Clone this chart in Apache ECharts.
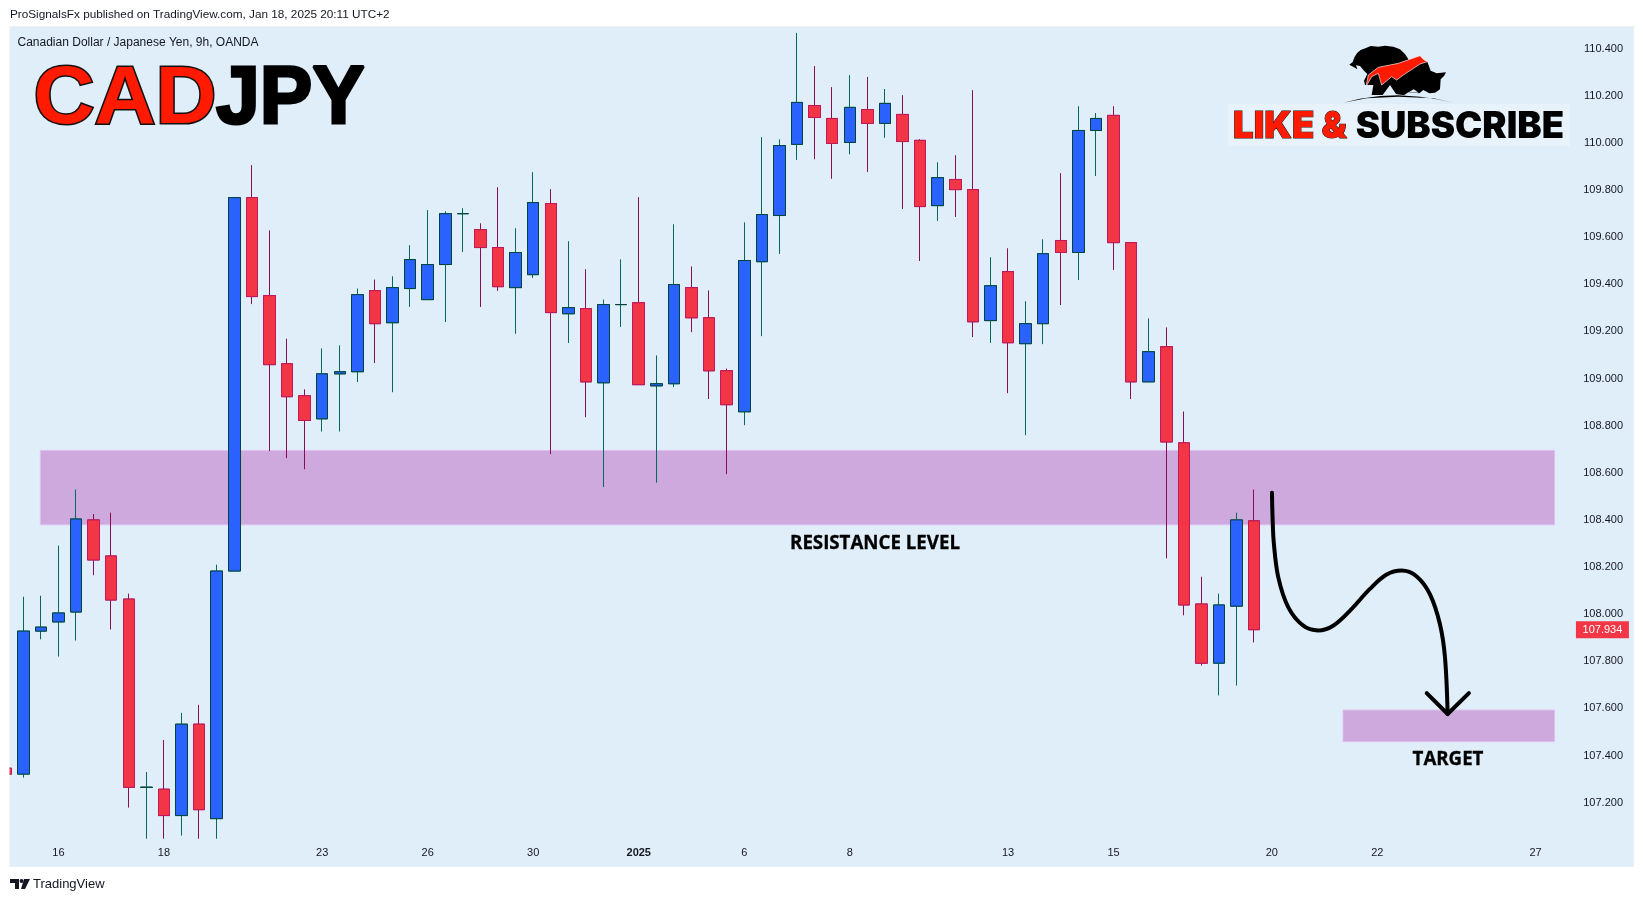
<!DOCTYPE html>
<html lang="en">
<head>
    <meta charset="UTF-8">
    <title>CADJPY</title>
    <script src="https://cdnjs.cloudflare.com/ajax/libs/echarts/6.0.0/echarts.min.js"></script>
    <style>
        html, body { margin: 0; padding: 0; background: #fff; }
        #Chart1 { width: 1643px; height: 901px; }
    </style>
</head>
<body>
<div id="Chart1"></div>
<script>
// candles, one per 9h bar
const opens = [107.346,107.321,107.928,107.967,108.009,108.400,108.247,108.064,107.265,107.257,107.145,107.533,107.132,108.183,109.768,109.352,109.063,108.927,108.829,109.020,109.029,109.373,109.237,109.382,109.335,109.484,109.700,109.632,109.556,109.386,109.441,109.743,109.275,109.297,108.982,109.314,109.322,108.969,108.978,109.386,109.258,109.033,108.859,109.496,109.692,109.994,110.159,110.104,110.002,110.142,110.083,110.121,110.011,109.734,109.845,109.802,109.246,109.454,109.148,109.233,109.586,109.535,110.053,110.117,109.577,108.986,109.135,108.727,108.043,107.792,108.034,108.396];
const closes = [107.321,107.928,107.945,108.005,108.404,108.230,108.060,107.265,107.265,107.145,107.533,107.170,108.183,109.768,109.348,109.059,108.923,108.822,109.020,109.029,109.356,109.233,109.386,109.505,109.484,109.700,109.700,109.556,109.390,109.535,109.747,109.280,109.301,108.986,109.314,109.314,108.974,108.978,109.399,109.258,109.033,108.889,109.501,109.696,109.989,110.172,110.108,109.998,110.151,110.083,110.168,110.006,109.730,109.853,109.802,109.241,109.394,109.152,109.233,109.530,109.535,110.053,110.104,109.577,108.986,109.114,108.731,108.039,107.792,108.039,108.400,107.934];
const lows = [107.321,107.306,107.893,107.820,107.888,108.165,107.935,107.179,107.047,107.047,107.060,107.047,107.047,108.183,109.316,108.692,108.662,108.615,108.775,108.775,108.985,109.066,108.942,109.304,109.335,109.240,109.537,109.304,109.372,109.190,109.427,108.679,109.151,108.836,108.539,109.219,108.974,108.558,108.964,109.197,108.913,108.594,108.802,109.180,109.529,109.928,109.931,109.848,109.952,109.877,110.022,109.720,109.499,109.669,109.686,109.176,109.151,108.938,108.760,109.146,109.312,109.418,109.860,109.461,108.913,108.986,108.237,107.995,107.782,107.655,107.697,107.880];
const highs = [107.346,108.074,108.078,108.291,108.529,108.425,108.431,108.087,107.330,107.466,107.581,107.615,108.210,109.768,109.906,109.629,109.169,108.954,109.128,109.141,109.382,109.420,109.434,109.566,109.715,109.710,109.723,109.659,109.812,109.638,109.876,109.804,109.583,109.464,109.335,109.506,109.770,109.098,109.655,109.476,109.374,109.042,109.663,110.025,110.015,110.467,110.326,110.237,110.288,110.280,110.229,110.203,110.016,109.918,109.948,110.224,109.515,109.553,109.328,109.591,109.872,110.156,110.127,110.156,109.577,109.255,109.217,108.860,108.159,108.087,108.431,108.529];

const lastPrice = 107.934;

// axes
const priceTicks = [107.2,107.4,107.6,107.8,108.0,108.2,108.4,108.6,108.8,109.0,109.2,109.4,109.6,109.8,110.0,110.2,110.4];
const barTicks = [3,9,18,24,30,36,42,48,57,63,72,78,87];
const tickLabels = ['16','18','23','26','30','2025','6','8','13','15','20','22','27'];

// drawn zones: [left bar, right bar, top price, bottom price]
const resistanceZone = [1.97, 88.08, 108.695, 108.379];
const targetZone = [76.05, 88.08, 107.593, 107.459];

// hand drawn arrow, [bar, price]
const arrowPath = [[72.01,108.515],[72.05,108.397],[72.12,108.298],[72.37,108.156],[72.94,108.029],[73.79,107.951],[74.64,107.931],[75.49,107.951],[76.45,108.015],[77.58,108.107],[78.53,108.168],[79.38,108.185],[80.24,108.160],[80.99,108.085],[81.56,107.958],[81.85,107.816],[82.00,107.576]];
const arrowHead = [[80.81,107.665],[82.00,107.576],[83.21,107.665]];

const sans = '"Liberation Sans", Arial, sans-serif';
const panelColor = '#e0eef9';
const zoneStyle = { color: '#cda9de', borderColor: '#e2bff2', borderWidth: 1 };

let wickData = opens.map((o, i) => [i, o, closes[i], lows[i], highs[i]]);
// second pass draws only the bodies, so outline and wick can differ in colour
let bodyData = opens.map((o, i) => [i, o, closes[i], Math.min(o, closes[i]), Math.max(o, closes[i])]);

function zoneArea(z) {
    return [[{ xAxis: z[0], yAxis: z[2] }, { xAxis: z[1], yAxis: z[3] }]];
}

let myChart1 = echarts.init(document.getElementById('Chart1'), null, { renderer: 'canvas' });

let option = {
    animation: false,
    backgroundColor: '#fff',
    textStyle: { fontFamily: sans },
    grid: { left: 10, top: 27, width: 1566, height: 816, containLabel: false },
    xAxis: {
        type: 'value',
        min: 0.2445,
        max: 89.3,
        axisLine: { show: false },
        axisTick: { show: false },
        splitLine: { show: false },
        axisLabel: {
            customValues: barTicks,
            margin: 4,
            fontSize: 11,
            fontFamily: sans,
            color: '#131722',
            formatter: function (v) {
                let s = tickLabels[barTicks.indexOf(v)];
                return s === '2025' ? '{b|' + s + '}' : s;
            },
            rich: { b: { fontSize: 11, fontWeight: 'bold', fontFamily: sans, color: '#131722' } }
        }
    },
    yAxis: {
        type: 'value',
        position: 'right',
        min: 107.0286,
        max: 110.4922,
        axisLine: { show: false },
        axisTick: { show: false },
        splitLine: { show: false },
        axisLabel: {
            customValues: priceTicks,
            align: 'right',
            margin: 47,
            fontSize: 11,
            fontFamily: sans,
            color: '#131722',
            formatter: function (v) { return v.toFixed(3); }
        }
    },
    series: [
        {
            type: 'line',
            data: [],
            z: 1,
            markArea: {
                silent: true,
                itemStyle: zoneStyle,
                data: zoneArea(resistanceZone).concat(zoneArea(targetZone))
            }
        },
        {
            type: 'candlestick',
            name: 'wicks',
            z: 2,
            barWidth: 12,
            encode: { x: 0, y: [1, 2, 3, 4] },
            itemStyle: {
                color: '#2962ff', color0: '#f23645',
                borderColor: '#00695c', borderColor0: '#880e4f', borderWidth: 1
            },
            data: wickData
        },
        {
            type: 'candlestick',
            name: 'bodies',
            z: 3,
            barWidth: 12,
            encode: { x: 0, y: [1, 2, 3, 4] },
            itemStyle: {
                color: '#2962ff', color0: '#f23645',
                borderColor: '#00453c', borderColor0: '#c2185b', borderWidth: 1
            },
            data: bodyData,
            markPoint: {
                silent: true,
                symbol: 'rect',
                symbolSize: [53, 17],
                symbolOffset: [31.7, 0],
                itemStyle: { color: '#f23645' },
                label: { show: true, position: 'inside', color: '#fff', fontSize: 11, fontFamily: sans, formatter: function () { return lastPrice.toFixed(3); } },
                data: [{ coord: [89, lastPrice] }]
            }
        },
        {
            type: 'line',
            z: 4,
            data: arrowPath,
            smooth: 0.35,
            symbol: 'none',
            silent: true,
            lineStyle: { color: '#000', width: 4, cap: 'round', join: 'round' }
        },
        {
            type: 'line',
            z: 4,
            data: arrowHead,
            symbol: 'none',
            silent: true,
            lineStyle: { color: '#000', width: 4, cap: 'round', join: 'round' }
        }
    ],
    graphic: [
        // panel
        { type: 'rect', z: -10, silent: true, shape: { x: 9.5, y: 26.5, width: 1624, height: 840 }, style: { fill: panelColor, stroke: '#eceff3', lineWidth: 1 } },
        // the bar cut by the left edge must not show outside the panel
        { type: 'rect', z: 10, silent: true, shape: { x: 0, y: 26, width: 9.5, height: 841 }, style: { fill: '#fff' } },
        // header, footer
        { type: 'text', z: 5, x: 10, y: 9, style: { text: 'ProSignalsFx published on TradingView.com, Jan 18, 2025 20:11 UTC+2', fill: '#131722', font: '11.75px ' + sans } },
        { type: 'text', z: 5, x: 17.5, y: 37, style: { text: 'Canadian Dollar / Japanese Yen, 9h, OANDA', fill: '#131722', font: '12px ' + sans } },
        { type: 'text', z: 5, x: 33, y: 878, style: { text: 'TradingView', fill: '#131722', font: '13px ' + sans } },
        { type: 'polygon', z: 5, shape: { points: [[10, 879], [19, 879], [19, 889], [15, 889], [15, 883], [10, 883]] }, style: { fill: '#131722' } },
        { type: 'polygon', z: 5, shape: { points: [[24, 879], [30, 879], [25, 889], [21, 889]] }, style: { fill: '#131722' } },
        { type: 'circle', z: 5, shape: { cx: 21.5, cy: 881, r: 1.9 }, style: { fill: '#131722' } },
        // pair name
        { type: 'text', z: 6, x: 33.5, y: 59, scaleX: 1.03, style: { text: 'CAD', fill: '#ff1a00', stroke: '#111', lineWidth: 3, lineJoin: 'round', font: 'bold 82px ' + sans, shadowBlur: 6, shadowColor: '#fff' } },
        { type: 'text', z: 6, x: 216, y: 59, scaleX: 0.96, style: { text: 'JPY', fill: '#000', stroke: '#000', lineWidth: 3, lineJoin: 'round', font: 'bold 82px ' + sans, shadowBlur: 6, shadowColor: '#fff' } },
        // like and subscribe
        { type: 'rect', z: -5, silent: true, shape: { x: 1228, y: 104, width: 342, height: 42 }, style: { fill: '#e7f2fb' } },
        { type: 'text', z: 6, x: 1233, y: 108.5, style: { text: 'LIKE &', fill: '#ff1a00', stroke: '#111', lineWidth: 1, font: '900 36.5px Inter, Roboto, sans-serif' } },
        { type: 'text', z: 6, x: 1355.7, y: 108.5, style: { text: 'SUBSCRIBE', fill: '#000', font: '900 36.5px Inter, Roboto, sans-serif' } },
        // logo, sketched at 3x and scaled down
        {
            type: 'group', x: 1340, y: 40, scaleX: 1 / 3, scaleY: 1 / 3, z: 6,
            children: [
                { type: 'polygon', z: 6, shape: { points: [[28,74],[38,66],[44,50],[52,38],[62,30],[78,24],[92,18],[115,20],[135,17],[160,20],[180,28],[195,42],[208,62],[262,65],[272,92],[290,100],[318,97],[312,108],[302,118],[300,148],[285,158],[268,160],[250,150],[238,160],[205,157],[192,166],[168,162],[150,135],[128,165],[95,165],[100,135],[75,135],[72,122],[82,102],[72,92],[60,78],[48,76],[52,88],[42,82]] }, style: { fill: '#000' } },
                { type: 'polygon', z: 7, shape: { points: [[78,140],[85,105],[115,82],[175,70],[240,47],[250,58],[262,65],[240,72],[190,105],[170,120],[155,110],[125,135],[115,100],[95,110]] }, style: { fill: '#ff1a00', stroke: '#f4f4f4', lineWidth: 2 } },
                { type: 'polygon', z: 7, shape: { points: [[131,166],[146,146],[160,165]] }, style: { fill: panelColor } },
                { type: 'polygon', z: 7, shape: { points: [[206,157],[221,148],[236,158]] }, style: { fill: panelColor } },
                { type: 'polygon', z: 7, shape: { points: [[10,188],[60,176],[120,168],[175,166],[240,170],[290,178],[340,188],[280,175],[175,170],[80,175]] }, style: { fill: '#000' } }
            ]
        },
        // labels on the zones
        { type: 'text', z: 6, x: 875, y: 543.5, style: { text: 'RESISTANCE LEVEL', align: 'center', verticalAlign: 'middle', fill: '#000', stroke: '#000', lineWidth: 0.3, font: 'bold 18.7px "Open Sans", sans-serif' } },
        { type: 'text', z: 6, x: 1448, y: 759.5, style: { text: 'TARGET', align: 'center', verticalAlign: 'middle', fill: '#000', stroke: '#000', lineWidth: 0.3, font: 'bold 18.7px "Open Sans", sans-serif' } }
    ]
};

myChart1.setOption(option);
</script>
</body>
</html>
